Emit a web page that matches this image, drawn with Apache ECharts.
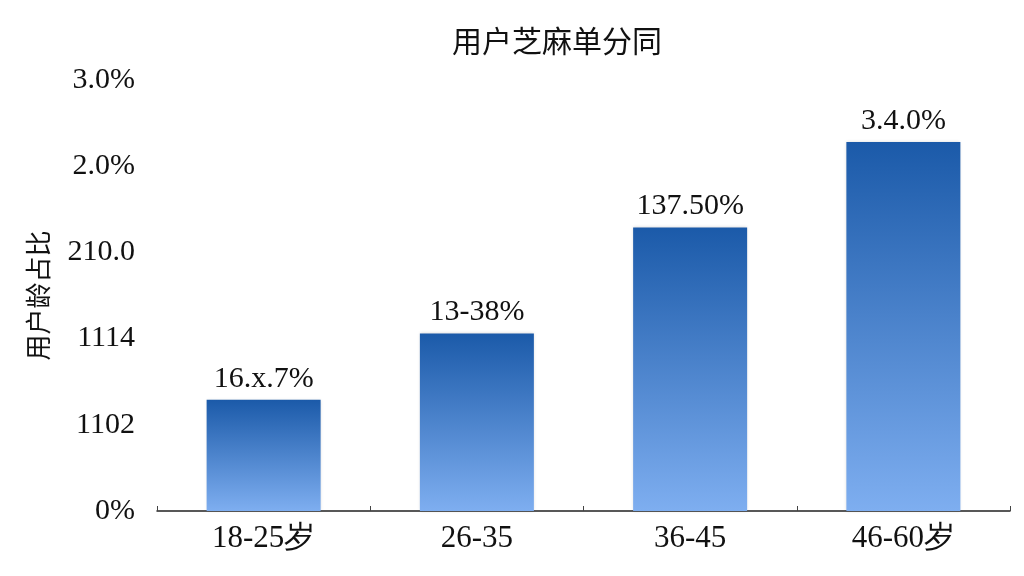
<!DOCTYPE html>
<html lang="zh">
<head>
    <meta charset="utf-8">
    <title>用户芝麻单分同</title>
    <script src="https://cdn.jsdelivr.net/npm/echarts@6/dist/echarts.min.js"></script>
    <style>
        html, body { margin: 0; padding: 0; background: #fff; }
        #chart { width: 1024px; height: 576px; }
    </style>
</head>
<body>
    <div id="chart"></div>
    <script>
        // Data (values in axis units, one unit per tick)
        const categories = ['18-25岁', '26-35', '36-45', '46-60岁'];
        const values = [1.29, 2.06, 3.29, 4.28];
        const barLabels = ['16.x.7%', '13-38%', '137.50%', '3.4.0%'];
        const yTickLabels = ['0%', '1102', '1114', '210.0', '2.0%', '3.0%'];

        const chart = echarts.init(document.getElementById('chart'));
        const serif = '"Liberation Serif", "Times New Roman", serif';
        const sans = '"Noto Sans CJK SC", "Noto Sans", sans-serif';

        chart.setOption({
            animation: false,
            title: {
                text: '用户芝麻单分同',
                left: 447,
                top: 21,
                textStyle: { fontFamily: sans, fontSize: 30, fontWeight: 'normal', color: '#111' }
            },
            grid: { left: 157, right: 14, top: 80, bottom: 65 },
            xAxis: [{
                type: 'category',
                data: categories,
                axisLine: { lineStyle: { color: '#222', width: 1.5 } },
                axisTick: { alignWithLabel: true, length: 7, lineStyle: { color: '#222' } },
                axisLabel: { fontFamily: serif, fontSize: 31, color: '#111', margin: 12 }
            }, {
                type: 'category',
                data: categories,
                position: 'bottom',
                axisLine: { show: true, lineStyle: { color: 'rgba(0,0,0,0)' } },
                axisTick: { show: true, inside: true, length: 5, lineStyle: { color: '#444' } },
                axisLabel: { show: false }
            }],
            yAxis: {
                type: 'value',
                min: 0,
                max: 5,
                interval: 1,
                name: '用户龄占比',
                nameLocation: 'middle',
                nameGap: 106,
                nameTextStyle: { fontFamily: sans, fontSize: 26, color: '#111' },
                axisLine: { show: false },
                axisTick: { show: false },
                splitLine: { show: false },
                axisLabel: {
                    fontFamily: serif,
                    fontSize: 30,
                    color: '#111',
                    margin: 22,
                    formatter: function (v) { return yTickLabels[Math.round(v)]; }
                }
            },
            series: [{
                type: 'bar',
                xAxisIndex: 0,
                data: values,
                barWidth: 114,
                itemStyle: {
                    color: new echarts.graphic.LinearGradient(0, 0, 0, 1, [
                        { offset: 0, color: '#1b5aa9' },
                        { offset: 1, color: '#7eaef0' }
                    ]),
                    shadowBlur: 3,
                    shadowColor: 'rgba(0,0,0,0.15)'
                },
                label: {
                    show: true,
                    position: 'top',
                    distance: 6,
                    fontFamily: serif,
                    fontSize: 30,
                    color: '#111',
                    formatter: function (p) { return barLabels[p.dataIndex]; }
                }
            }]
        });
    </script>
</body>
</html>
